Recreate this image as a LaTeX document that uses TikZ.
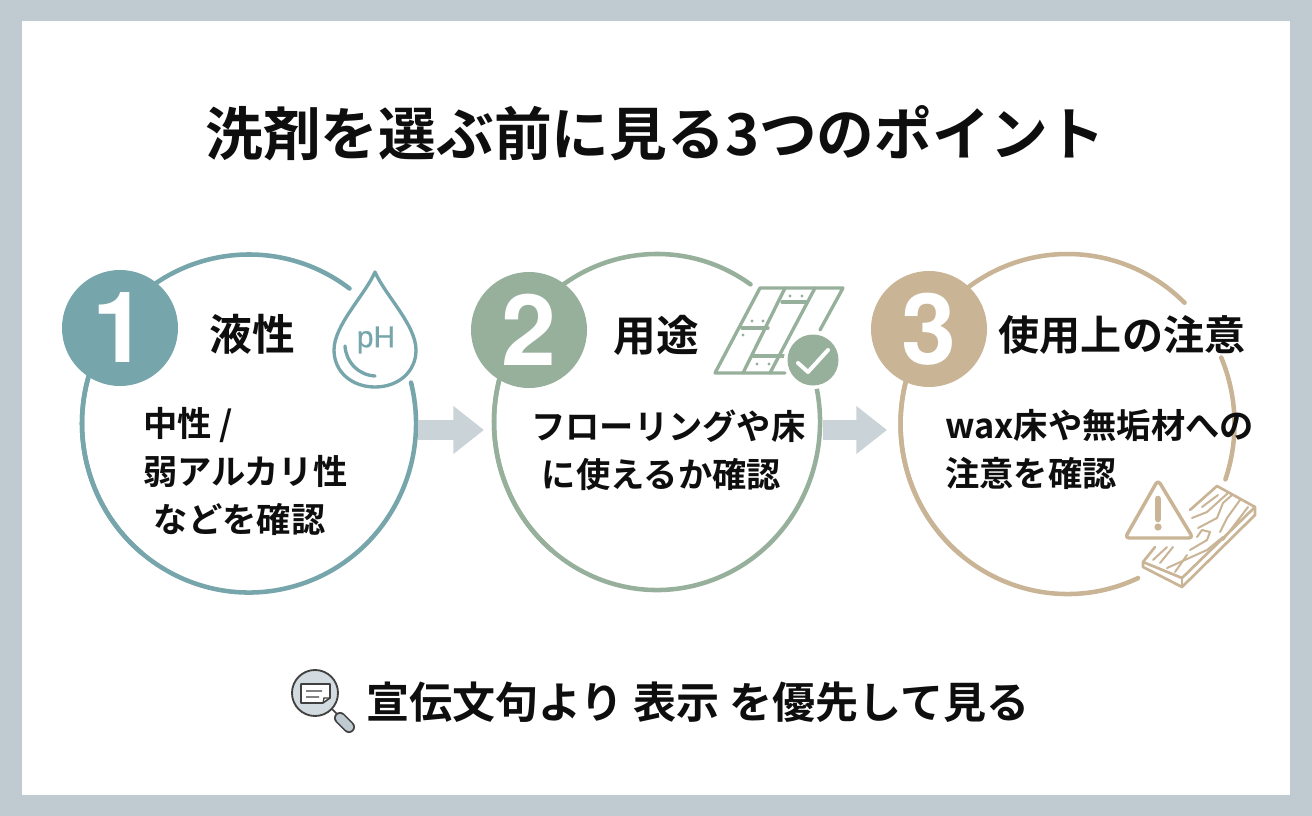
\documentclass[tikz,border=0pt]{standalone}
\usepackage{fontspec}
\usetikzlibrary{arrows.meta}
\newfontfamily\jpb{Noto Sans CJK JP Bold}
\newfontfamily\nums{TeX Gyre Heros}
\newfontfamily\phfont[FakeBold=0.6]{Liberation Sans}
\definecolor{framec}{HTML}{BFCBD1}
\definecolor{teal}{HTML}{76A5AB}
\definecolor{sage}{HTML}{97B09C}
\definecolor{sand}{HTML}{C9B596}
\definecolor{arrowc}{HTML}{CAD3D8}
\definecolor{inkc}{HTML}{0E0E0E}
\tikzset{
 ring/.style={line width=3.4pt,line cap=round},
 badge/.style={circle,minimum size=87pt,inner sep=0pt,text=white,font=\nums\bfseries\fontsize{74}{74}\selectfont},
 head/.style={text=inkc,font=\jpb\fontsize{32}{32}\selectfont,inner sep=0pt},
 body/.style={text=inkc,font=\jpb\fontsize{25.7}{36}\selectfont,inner sep=0pt,align=left,anchor=north west},
 flow/.style={line width=15pt,arrowc,-{Triangle[length=23pt,width=34.5pt]}},
 icon/.style={line width=2.5pt,line cap=round,line join=round},
 fine/.style={line width=1.5pt,line cap=round,line join=round},
}
\begin{document}
\begin{tikzpicture}[x=0.75pt,y=-0.75pt]
\useasboundingbox (0,0) rectangle (1312,816);
\fill[framec] (0,0) rectangle (1312,816);
\fill[white] (22,21) rectangle (1290,795);
\node[text=inkc,font=\jpb\fontsize{43.3}{43.3}\selectfont,inner sep=0pt] (title) at (655.5,133) {洗剤を選ぶ前に見る3つのポイント};
% rings
\coordinate (c1) at (249,423.5);
\coordinate (c2) at (657,422);
\coordinate (c3) at (1067.5,424);
\draw[ring,teal] (c1) ++(-53:167 and 169) arc[start angle=-53,end angle=-230,x radius=167,y radius=169];
\draw[ring,teal] (c1) ++(-14:167 and 169) arc[start angle=-14,end angle=210,x radius=167,y radius=169];
\draw[ring,sage] (c2) ++(-55:163 and 168) arc[start angle=-55,end angle=-230,x radius=163,y radius=168];
\draw[ring,sage] (c2) ++(-17:163 and 168) arc[start angle=-17,end angle=210,x radius=163,y radius=168];
\draw[ring,sand] (c3) ++(-45.5:167 and 170) arc[start angle=-45.5,end angle=-230,x radius=167,y radius=170];
\draw[ring,sand] (c3) ++(-23:167 and 170) arc[start angle=-23,end angle=19,x radius=167,y radius=170];
\draw[ring,sand] (c3) ++(65:167 and 170) arc[start angle=65,end angle=210,x radius=167,y radius=170];
% badges
\node[badge,fill=teal] (b1) at (120,328) {1};
\node[badge,fill=sage] (b2) at (529,330) {2};
\node[badge,fill=sand] (b3) at (929,329) {3};
% headings
\node[head] (h1) at (252,334) {液性};
\node[head] (h2) at (656,335) {用途};
\node[head,font=\jpb\fontsize{30.8}{30.8}\selectfont] (h3) at (1122,335) {使用上の注意};
% bodies
\node[body] (t1) at (143,407) {中性 /\\弱アルカリ性\\\hspace*{8pt}などを確認};
\node[body] (t2) at (531,410) {フローリングや床\\\hspace*{8pt}に使えるか確認};
\node[body] (t3) at (945,409) {wax床や無垢材への\\注意を確認};
% arrows
\coordinate (a1s) at (418,430);
\coordinate (a1e) at (484,430);
\coordinate (a2s) at (823,430);
\coordinate (a2e) at (887,430);
\draw[flow] (a1s) -- (a1e);
\draw[flow] (a2s) -- (a2e);
% pH drop
\begin{scope}[teal]
\draw[icon] (375,272) .. controls (365,295) and (334,325) .. (334,350) .. controls (334,372) and (352,387) .. (375,387) .. controls (398,387) and (416,372) .. (416,350) .. controls (416,325) and (385,295) .. (375,272) -- cycle;
\draw[icon] (345,346) .. controls (346,362) and (358,375) .. (375,376);
\node[font=\phfont\fontsize{22.5}{22.5}\selectfont,text=teal,inner sep=0pt] (ph) at (376,340) {pH};
\end{scope}
% floor
\begin{scope}[sage]
\draw[icon] (820,330) -- (843,288) -- (760,288) -- (715,373) -- (785,373);
\draw[icon] (785,288) -- (743,373);
\draw[icon] (782,302) -- (806,302);
\draw[icon] (742,328) -- (768,328);
\draw[icon] (753,356) -- (785,356);
\draw[icon] (815,288) -- (770,373);
\foreach \p/\q in {790/296,802/296,752/321,763/321,743/335,757/364,769/364}{\fill (\p,\q) circle[radius=1.6];}
\fill[white] (813,360) circle[radius=29];
\fill (813,360) circle[radius=25.5];
\draw[white,line width=3pt,line cap=round,line join=round] (798,363) -- (808,372) -- (828,350);
\end{scope}
% warning and plank
\begin{scope}[sand]
\draw[line width=2.6pt,line join=round,rounded corners=3pt] (1158,480) -- (1193,538) -- (1125,538) -- cycle;
\draw[line width=5pt,line cap=round] (1158,499) -- (1158,519);
\fill (1158,527) circle[radius=3.6];
\draw[icon,line width=2pt] (1190,510) -- (1217,486) -- (1255,507) -- (1255,515) -- (1182,587) -- (1143,567) -- (1143,562) -- (1155,547);
\draw[icon,line width=2pt] (1143,562) -- (1182,578) -- (1255,507);
\draw[icon,line width=2pt] (1182,578) -- (1182,587);
\draw[fine] (1192,518) -- (1207,512) -- (1228,493);
\draw[fine] (1202,507) -- (1218,495);
\draw[fine] (1198,528) -- (1217,518) -- (1223,503) -- (1232,495);
\draw[fine] (1220,532) -- (1227,518) -- (1240,500);
\draw[fine] (1223,540) -- (1248,507);
\draw[fine] (1190,550) -- (1207,540) -- (1210,532) -- (1202,530) -- (1197,537);
\draw[fine] (1167,568) -- (1207,550) -- (1223,537);
\draw[fine] (1153,560) -- (1167,547);
\draw[fine] (1160,563) -- (1173,547);
\draw[fine] (1175,572) -- (1187,555);
\end{scope}
% magnifier
\node[text=inkc,font=\jpb\fontsize{32.3}{32.3}\selectfont,inner sep=0pt] (foot) at (698,702) {宣伝文句より 表示 を優先して見る};
\fill[framec!70] (315,693) circle[radius=22];
\draw[line width=1.4pt,black!75] (315,693) circle[radius=23];
\draw[line width=1.2pt,black!75,line join=round,fill=white] (301,684) -- (330,684) -- (330,698) -- (323,703) -- (301,703) -- cycle;
\draw[line width=1pt,black!75] (306,691) -- (322,691) (306,697) -- (319,697) (323,703) -- (324,698) -- (330,698);
\draw[line width=1.2pt,black!75] (332,709) -- (338,715);
\draw[line width=9pt,black!75,line cap=round] (340,718) -- (349,727);
\draw[line width=6.4pt,framec,line cap=round] (340,718) -- (349,727);
\end{tikzpicture}
\end{document}
